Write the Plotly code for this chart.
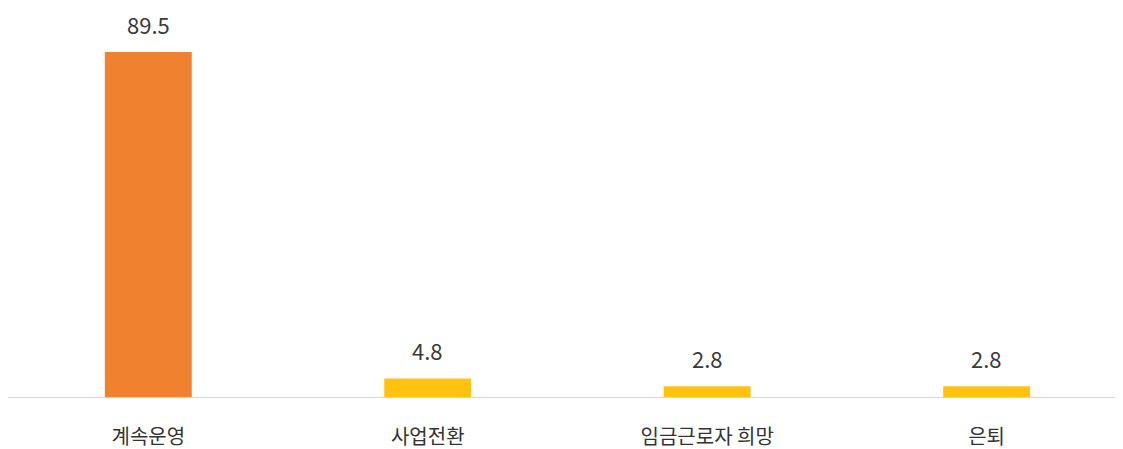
import plotly.graph_objects as go

categories = ["계속운영", "사업전환", "임금근로자 희망", "은퇴"]
values = [89.5, 4.8, 2.8, 2.8]
colors = ["#F0812F", "#FFC20E", "#FFC20E", "#FFC20E"]

fig = go.Figure()
fig.add_trace(go.Bar(
    x=categories, y=values, marker=dict(color=colors, line=dict(width=0)),
    width=0.311, hoverinfo="skip",
))
for c, v in zip(categories, values):
    fig.add_annotation(x=c, y=v, text=f"{v:.1f}", showarrow=False,
                       yanchor="bottom", yshift=11, borderpad=0,
                       font=dict(size=22, color="#3a3a3a"))

fig.update_layout(
    width=1115, height=441,
    margin=dict(l=0, r=0, t=0, b=52),
    paper_bgcolor="white", plot_bgcolor="white",
    font=dict(family="Noto Sans CJK KR, Roboto, sans-serif", color="#333333"),
    showlegend=False,
    xaxis=dict(type="category", range=[-0.502, 3.488], showline=True,
               linecolor="#d6d6d6", linewidth=1, showgrid=False,
               ticks="outside", ticklen=22, tickcolor="rgba(0,0,0,0)",
               tickfont=dict(size=20, color="#333333"), automargin=False),
    yaxis=dict(range=[0, 100.9], visible=False, showgrid=False, zeroline=False),
)
fig.write_html("out.html")
